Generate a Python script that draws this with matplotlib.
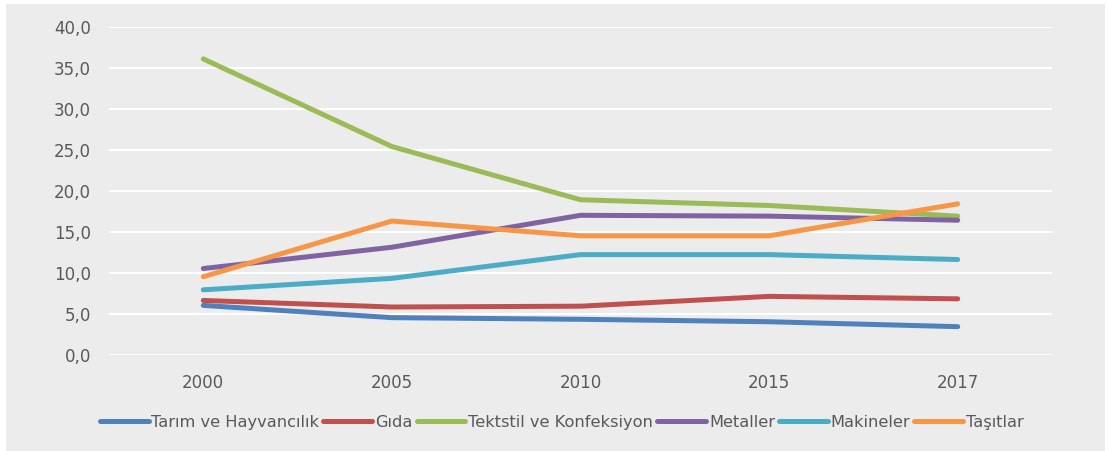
import matplotlib
matplotlib.use('Agg')
import matplotlib.pyplot as plt
from matplotlib.patches import Rectangle
from matplotlib.ticker import FuncFormatter, MultipleLocator

years = ['2000', '2005', '2010', '2015', '2017']

tarim = [6.0, 4.5, 4.3, 4.0, 3.4]
gida = [6.6, 5.8, 5.9, 7.1, 6.8]
tekstil = [36.1, 25.4, 18.9, 18.2, 16.9]
metaller = [10.5, 13.1, 17.0, 16.9, 16.4]
makineler = [7.9, 9.3, 12.2, 12.2, 11.6]
tasitlar = [9.5, 16.3, 14.5, 14.5, 18.4]

series = [
    ('Tarım ve Hayvancılık', tarim, '#4f81bd'),
    ('Gıda', gida, '#c0504d'),
    ('Tektstil ve Konfeksiyon', tekstil, '#9bbb59'),
    ('Metaller', metaller, '#8064a2'),
    ('Makineler', makineler, '#4bacc6'),
    ('Taşıtlar', tasitlar, '#f79646'),
]

text_color = '#595959'
bg = '#ececec'

fig = plt.figure(figsize=(11.08, 4.51), dpi=100, facecolor='white')
fig.patches.append(Rectangle((6 / 1108, 0), 1099 / 1108, 447 / 451,
                             transform=fig.transFigure, facecolor=bg,
                             edgecolor='none', zorder=-10))

ax = fig.add_axes([109 / 1108, 96.5 / 451, 943 / 1108, 327.5 / 451])
ax.set_facecolor(bg)

x = list(range(len(years)))
for name, vals, color in series:
    ax.plot(x, vals, color=color, lw=3.6, label=name,
            solid_capstyle='round', solid_joinstyle='round')

ax.set_xlim(-0.5, len(years) - 0.5)
ax.set_ylim(0, 40)
ax.yaxis.set_major_locator(MultipleLocator(5))
ax.yaxis.set_major_formatter(FuncFormatter(lambda v, p: f'{v:.1f}'.replace('.', ',')))
ax.set_xticks(x)
ax.set_xticklabels(years)

ax.grid(axis='y', color='white', lw=1.5)
ax.set_axisbelow(True)
for s in ax.spines.values():
    s.set_visible(False)
ax.tick_params(axis='both', length=0, labelsize=12, colors=text_color)
ax.tick_params(axis='y', pad=13)
ax.tick_params(axis='x', pad=14)

leg = fig.legend(loc='center', bbox_to_anchor=(0.507, 0.064), ncol=6,
                 frameon=False, fontsize=11.7, handlelength=3.0,
                 handletextpad=0.18, columnspacing=0.25, labelcolor=text_color)

fig.savefig('out.png', dpi=100, facecolor='white')
